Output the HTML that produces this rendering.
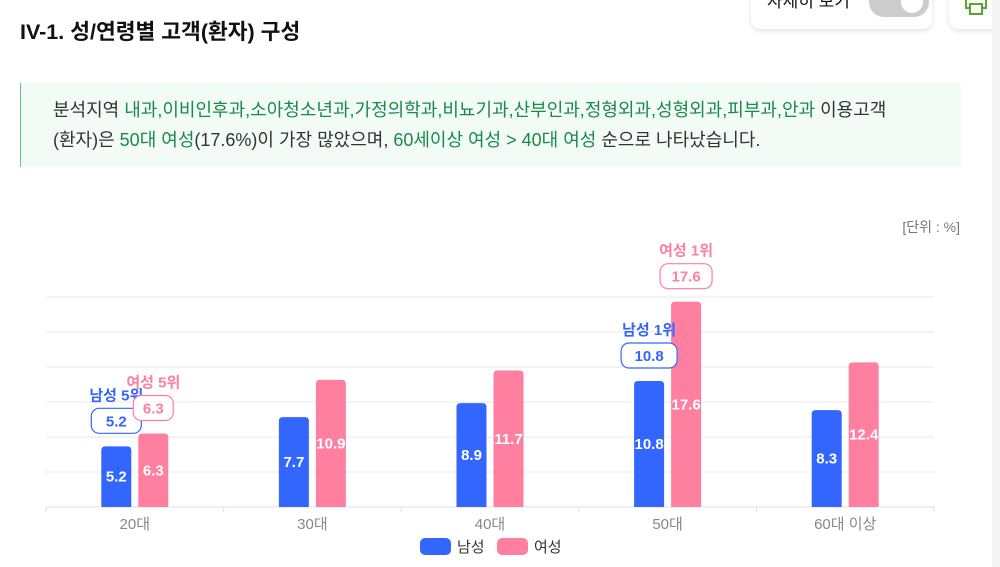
<!DOCTYPE html>
<html><head><meta charset="utf-8"><style>
body{margin:0;width:1000px;height:567px;overflow:hidden;background:#fff;font-family:"Liberation Sans","Noto Sans CJK KR",sans-serif;position:relative}
.title{position:absolute;left:20px;top:15px;font-size:21.5px;font-weight:bold;color:#111}
.box{position:absolute;left:20px;top:83px;width:940px;height:84px;background:#f2fbf5;border-left:1px solid #5bc98a}
.box p{margin:0;position:absolute;left:32px;top:12px;font-size:18px;line-height:30px;color:#333}
.g{color:#1a8a4a}
.card{position:absolute;top:-20px;height:49px;background:#fff;border-radius:10px;box-shadow:0 2px 6px rgba(0,0,0,.12)}
.side{position:absolute;right:0;top:0;width:8px;height:567px;background:#f4f4f4}
</style></head><body>
<div class="title">IV-1. 성/연령별 고객(환자) 구성</div>
<div class="card" style="left:751px;width:181px">
 <span style="position:absolute;left:16px;top:7px;font-size:17px;color:#111">자세히 보기</span>
 <div style="position:absolute;left:118px;top:7px;width:60px;height:30px;border-radius:15px;background:#ccc"><div style="position:absolute;right:6px;top:4px;width:22px;height:22px;border-radius:50%;background:#fff"></div></div>
</div>
<div class="card" style="left:949px;width:60px">
 <svg style="position:absolute;left:15px;top:8px" width="26" height="30" viewBox="0 0 26 30"><rect x="6" y="2" width="12" height="8" fill="none" stroke="#5aa62a" stroke-width="2"/><rect x="2" y="10" width="20" height="10" fill="none" stroke="#5aa62a" stroke-width="2"/><rect x="6" y="16" width="12" height="10" fill="#fff" stroke="#5aa62a" stroke-width="2"/></svg>
</div>
<div class="side"></div>
<div class="box"><p>분석지역 <span class="g">내과,이비인후과,소아청소년과,가정의학과,비뇨기과,산부인과,정형외과,성형외과,피부과,안과</span> 이용고객<br>(환자)은 <span class="g">50대 여성</span>(17.6%)이 가장 많았으며, <span class="g">60세이상 여성 &gt; 40대 여성</span> 순으로 나타났습니다.</p></div>
<svg id="chart" width="1000" height="567" style="position:absolute;left:0;top:0">
<text x="960" y="232" text-anchor="end" font-size="14" fill="#777">[단위 : %]</text>
</svg>
<script>
const categories=["20대","30대","40대","50대","60대 이상"];
const maleValues=[5.2,7.7,8.9,10.8,8.3];
const femaleValues=[6.3,10.9,11.7,17.6,12.4];
const yTicks=[0,3,6,9,12,15,18];
const maleRanks=[{i:0,label:"남성 5위"},{i:3,label:"남성 1위"}];
const femaleRanks=[{i:0,label:"여성 5위"},{i:3,label:"여성 1위"}];
const NS="http://www.w3.org/2000/svg",svg=document.getElementById('chart');
const X0=46,X1=934,Y0=507,SC=35/3,BW=30,GAP=7;
const cw=(X1-X0)/categories.length;
const y=v=>Y0-v*SC, cx=i=>X0+cw*(i+0.5);
function mk(t,a,p){const e=document.createElementNS(NS,t);for(const k in a)e.setAttribute(k,a[k]);(p||svg).appendChild(e);return e;}
yTicks.forEach(t=>{const l=mk('line',{x1:X0,x2:X1,y1:y(t),y2:y(t),stroke:t?'#e6e9f0':'#dde1ea','stroke-width':1});

});
for(let i=0;i<=categories.length;i++){mk('line',{x1:X0+cw*i,x2:X0+cw*i,y1:Y0,y2:Y0+5,stroke:'#dde1ea'});}
function bar(v,x,col,name){const h=v*SC;const p=mk('path',{d:`M${x},${Y0}V${Y0-h+4}q0,-4 4,-4h${BW-8}q4,0 4,4V${Y0}Z`,fill:col});


const t=mk('text',{x:x+BW/2,y:Y0-h/2+5,'text-anchor':'middle','font-size':15,'font-weight':'bold',fill:'#fff'});t.textContent=v;

}
categories.forEach((c,i)=>{
 bar(maleValues[i],cx(i)-GAP/2-BW,'#3366ff','bar-male');
 bar(femaleValues[i],cx(i)+GAP/2,'#ff7fa0','bar-female');
 const t=mk('text',{x:cx(i),y:529,'text-anchor':'middle','font-size':15,fill:'#888'});t.textContent=c;
 
 
});
function callout(v,xc,col,label,w){const bot=y(v)-13;
 const r=mk('rect',{x:xc-w/2,y:bot-25,width:w,height:25,rx:8,fill:'#fff',stroke:col,'stroke-width':1.2});
 
 
 const t=mk('text',{x:xc,y:bot-7,'text-anchor':'middle','font-size':15,'font-weight':'bold',fill:col});t.textContent=v;
 const l=mk('text',{x:xc,y:bot-33,'text-anchor':'middle','font-size':15,'font-weight':'bold',fill:col});l.textContent=label;
 
 }
maleRanks.forEach(r=>callout(maleValues[r.i],cx(r.i)-GAP/2-BW/2,'#3366ff',r.label,maleValues[r.i]>=10?56:50));
femaleRanks.forEach(r=>callout(femaleValues[r.i],cx(r.i)+GAP/2+BW/2,'#ff7fa0',r.label,femaleValues[r.i]>=10?52:40));
[['남성','#3366ff',420],['여성','#ff7fa0',497]].forEach(([n,c,x])=>{
 const g=mk('g',{});
 
 
 mk('rect',{x:x,y:538,width:31,height:17,rx:5,fill:c},g);
 const t=mk('text',{x:x+37,y:552,'font-size':15,fill:'#333'},g);t.textContent=n;});
</script>
</body></html>
